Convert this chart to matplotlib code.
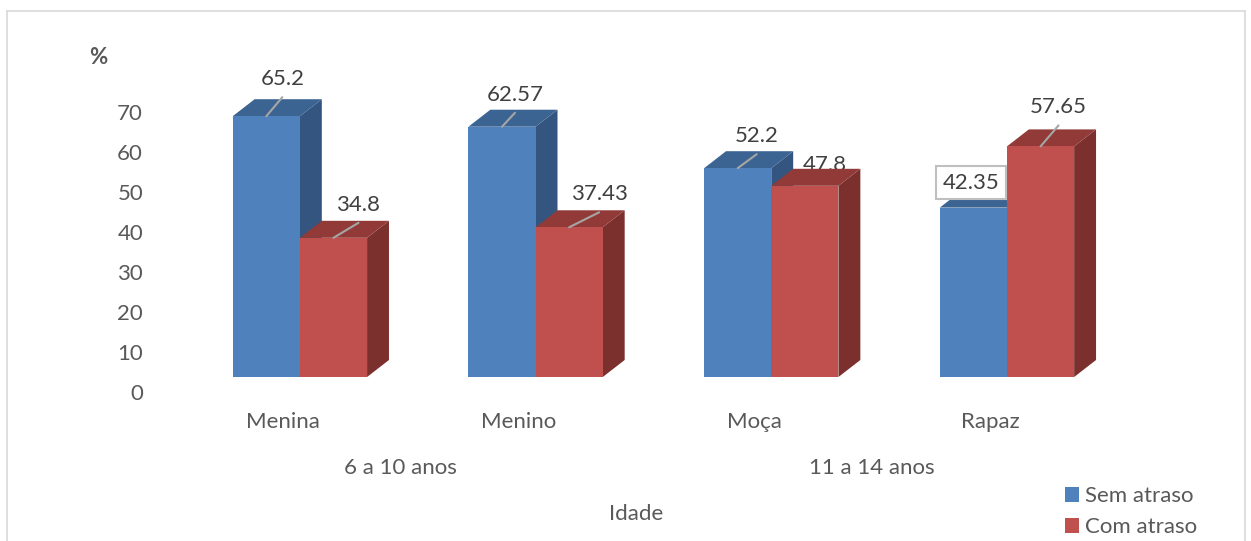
import matplotlib
matplotlib.use("Agg")
import matplotlib.pyplot as plt
import numpy as np
from matplotlib.patches import Polygon, Patch
from matplotlib.lines import Line2D
from matplotlib.transforms import ScaledTranslation

# Dados
categorias = ["Menina", "Menino", "Moça", "Rapaz"]
faixas = ["6 a 10 anos", "11 a 14 anos"]
sem_atraso = [65.2, 62.57, 52.2, 42.35]
com_atraso = [34.8, 37.43, 47.8, 57.65]
series_nomes = ["Sem atraso", "Com atraso"]
y_ticks = [0, 10, 20, 30, 40, 50, 60, 70]

# Estilo
plt.rcParams["font.family"] = ["Lato", "DejaVu Sans"]
FS = 16
TXT = "#595959"
LBL = "#404040"
cores = {
    "Sem atraso": ("#4f81bd", "#3c6493", "#335580"),
    "Com atraso": ("#c0504d", "#913a37", "#7b302e"),
}
LARGURA = 0.285          # largura de cada barra (unidades de categoria)
PROF_X, PROF_Y = 0.093, 4.25   # profundidade 3D

W, H = 1251, 541
fig = plt.figure(figsize=(W / 100, H / 100), dpi=100)
ax = fig.add_axes([150 / W, 164 / H, 1095 / W, 340 / H])
ax.set_xlim(-0.636, 4.01)
ax.set_ylim(0, 85)
for s in ax.spines.values():
    s.set_visible(False)


def barra_3d(x0, valor, cor):
    frente, topo, lado = cor
    x1 = x0 + LARGURA
    lado_pts = [(x1, 0), (x1 + PROF_X, PROF_Y), (x1 + PROF_X, valor + PROF_Y), (x1, valor)]
    topo_pts = [(x0, valor), (x0 + PROF_X, valor + PROF_Y), (x1 + PROF_X, valor + PROF_Y), (x1, valor)]
    ax.add_patch(Polygon(lado_pts, closed=True, fc=lado, ec="none", zorder=3))
    ax.add_patch(Polygon(topo_pts, closed=True, fc=topo, ec="none", zorder=3))
    ax.bar(x0, valor, width=LARGURA, align="edge", color=frente, edgecolor="none", zorder=3)


x = np.arange(len(categorias))
for i in range(len(categorias)):
    barra_3d(x[i] - LARGURA, sem_atraso[i], cores["Sem atraso"])
    barra_3d(x[i], com_atraso[i], cores["Com atraso"])

# rótulos de dados: deslocamento (px) do texto e se há linha de chamada
desl_sem = [(16, 37, True), (13, 32, True), (19, 32, True), (-2, 25, False)]
desl_com = [(25, 33, True), (30, 33, True), (20, 21, False), (18, 39, True)]


def rotulo(xc, valor, dx, dy, linha, caixa=False):
    kw = {}
    if caixa:
        kw["bbox"] = dict(boxstyle="square,pad=0.3", fc="white", ec="#bfbfbf", lw=1.5)
    ax.annotate(f"{valor:g}", xy=(xc, valor), xytext=(dx, dy), textcoords="offset pixels",
                ha="center", va="center", fontsize=FS, color=LBL,
                zorder=5 if caixa else 2, **kw)
    if linha:
        ax.annotate("", xy=(xc, valor), xytext=(dx, dy - 18), textcoords="offset pixels",
                    arrowprops=dict(arrowstyle="-", color="#a6a6a6", lw=1.5,
                                    shrinkA=0, shrinkB=0), zorder=4)


for i in range(len(categorias)):
    dx, dy, ln = desl_sem[i]
    rotulo(x[i] - LARGURA / 2, sem_atraso[i], dx, dy, ln, caixa=not ln)
    dx, dy, ln = desl_com[i]
    rotulo(x[i] + LARGURA / 2, com_atraso[i], dx, dy, ln)

# eixo y
ax.set_yticks(y_ticks)
ax.tick_params(axis="y", length=0, pad=5, labelsize=FS, labelcolor=TXT)
desloc = ScaledTranslation(0, -14.5 / 100, fig.dpi_scale_trans)
for t in ax.get_yticklabels():
    t.set_transform(t.get_transform() + desloc)
fig.text(98 / W, 1 - 57 / H, "%", ha="center", va="center", fontsize=FS,
         fontweight="bold", color=TXT)

# eixo x: categorias, faixas etárias e título
pos_cat = x - 0.072
ax.set_xticks(pos_cat)
ax.set_xticklabels(categorias)
ax.tick_params(axis="x", length=0, pad=25, labelsize=FS, labelcolor=TXT)
for k, faixa in enumerate(faixas):
    xc = pos_cat[2 * k:2 * k + 2].mean()
    ax.annotate(faixa, xy=(xc, 0), xycoords=("data", "axes fraction"), xytext=(0, -91),
                textcoords="offset pixels", ha="center", va="center", fontsize=FS, color=TXT)
ax.annotate("Idade", xy=(pos_cat.mean(), 0), xycoords=("data", "axes fraction"),
            xytext=(0, -137), textcoords="offset pixels", ha="center", va="center",
            fontsize=FS, color=TXT)

# legenda
handles = [Patch(fc=cores[n][0], ec="none") for n in series_nomes]
fig.legend(handles, series_nomes, loc="upper left", bbox_to_anchor=(1065 / W, 1 - 486 / H),
           frameon=False, fontsize=FS, labelcolor=TXT, handlelength=0.64, handleheight=0.64,
           handletextpad=0.25, labelspacing=0.5, borderpad=0, borderaxespad=0)

# moldura
borda = "#d9d9d9"
fig.add_artist(Line2D([7 / W, 7 / W], [0, 1 - 11 / H], color=borda, lw=1.2))
fig.add_artist(Line2D([7 / W, 1245 / W], [1 - 11 / H, 1 - 11 / H], color=borda, lw=1.2))
fig.add_artist(Line2D([1245 / W, 1245 / W], [0, 1 - 11 / H], color=borda, lw=1.2))

fig.savefig("out.png", dpi=100, facecolor="white")
